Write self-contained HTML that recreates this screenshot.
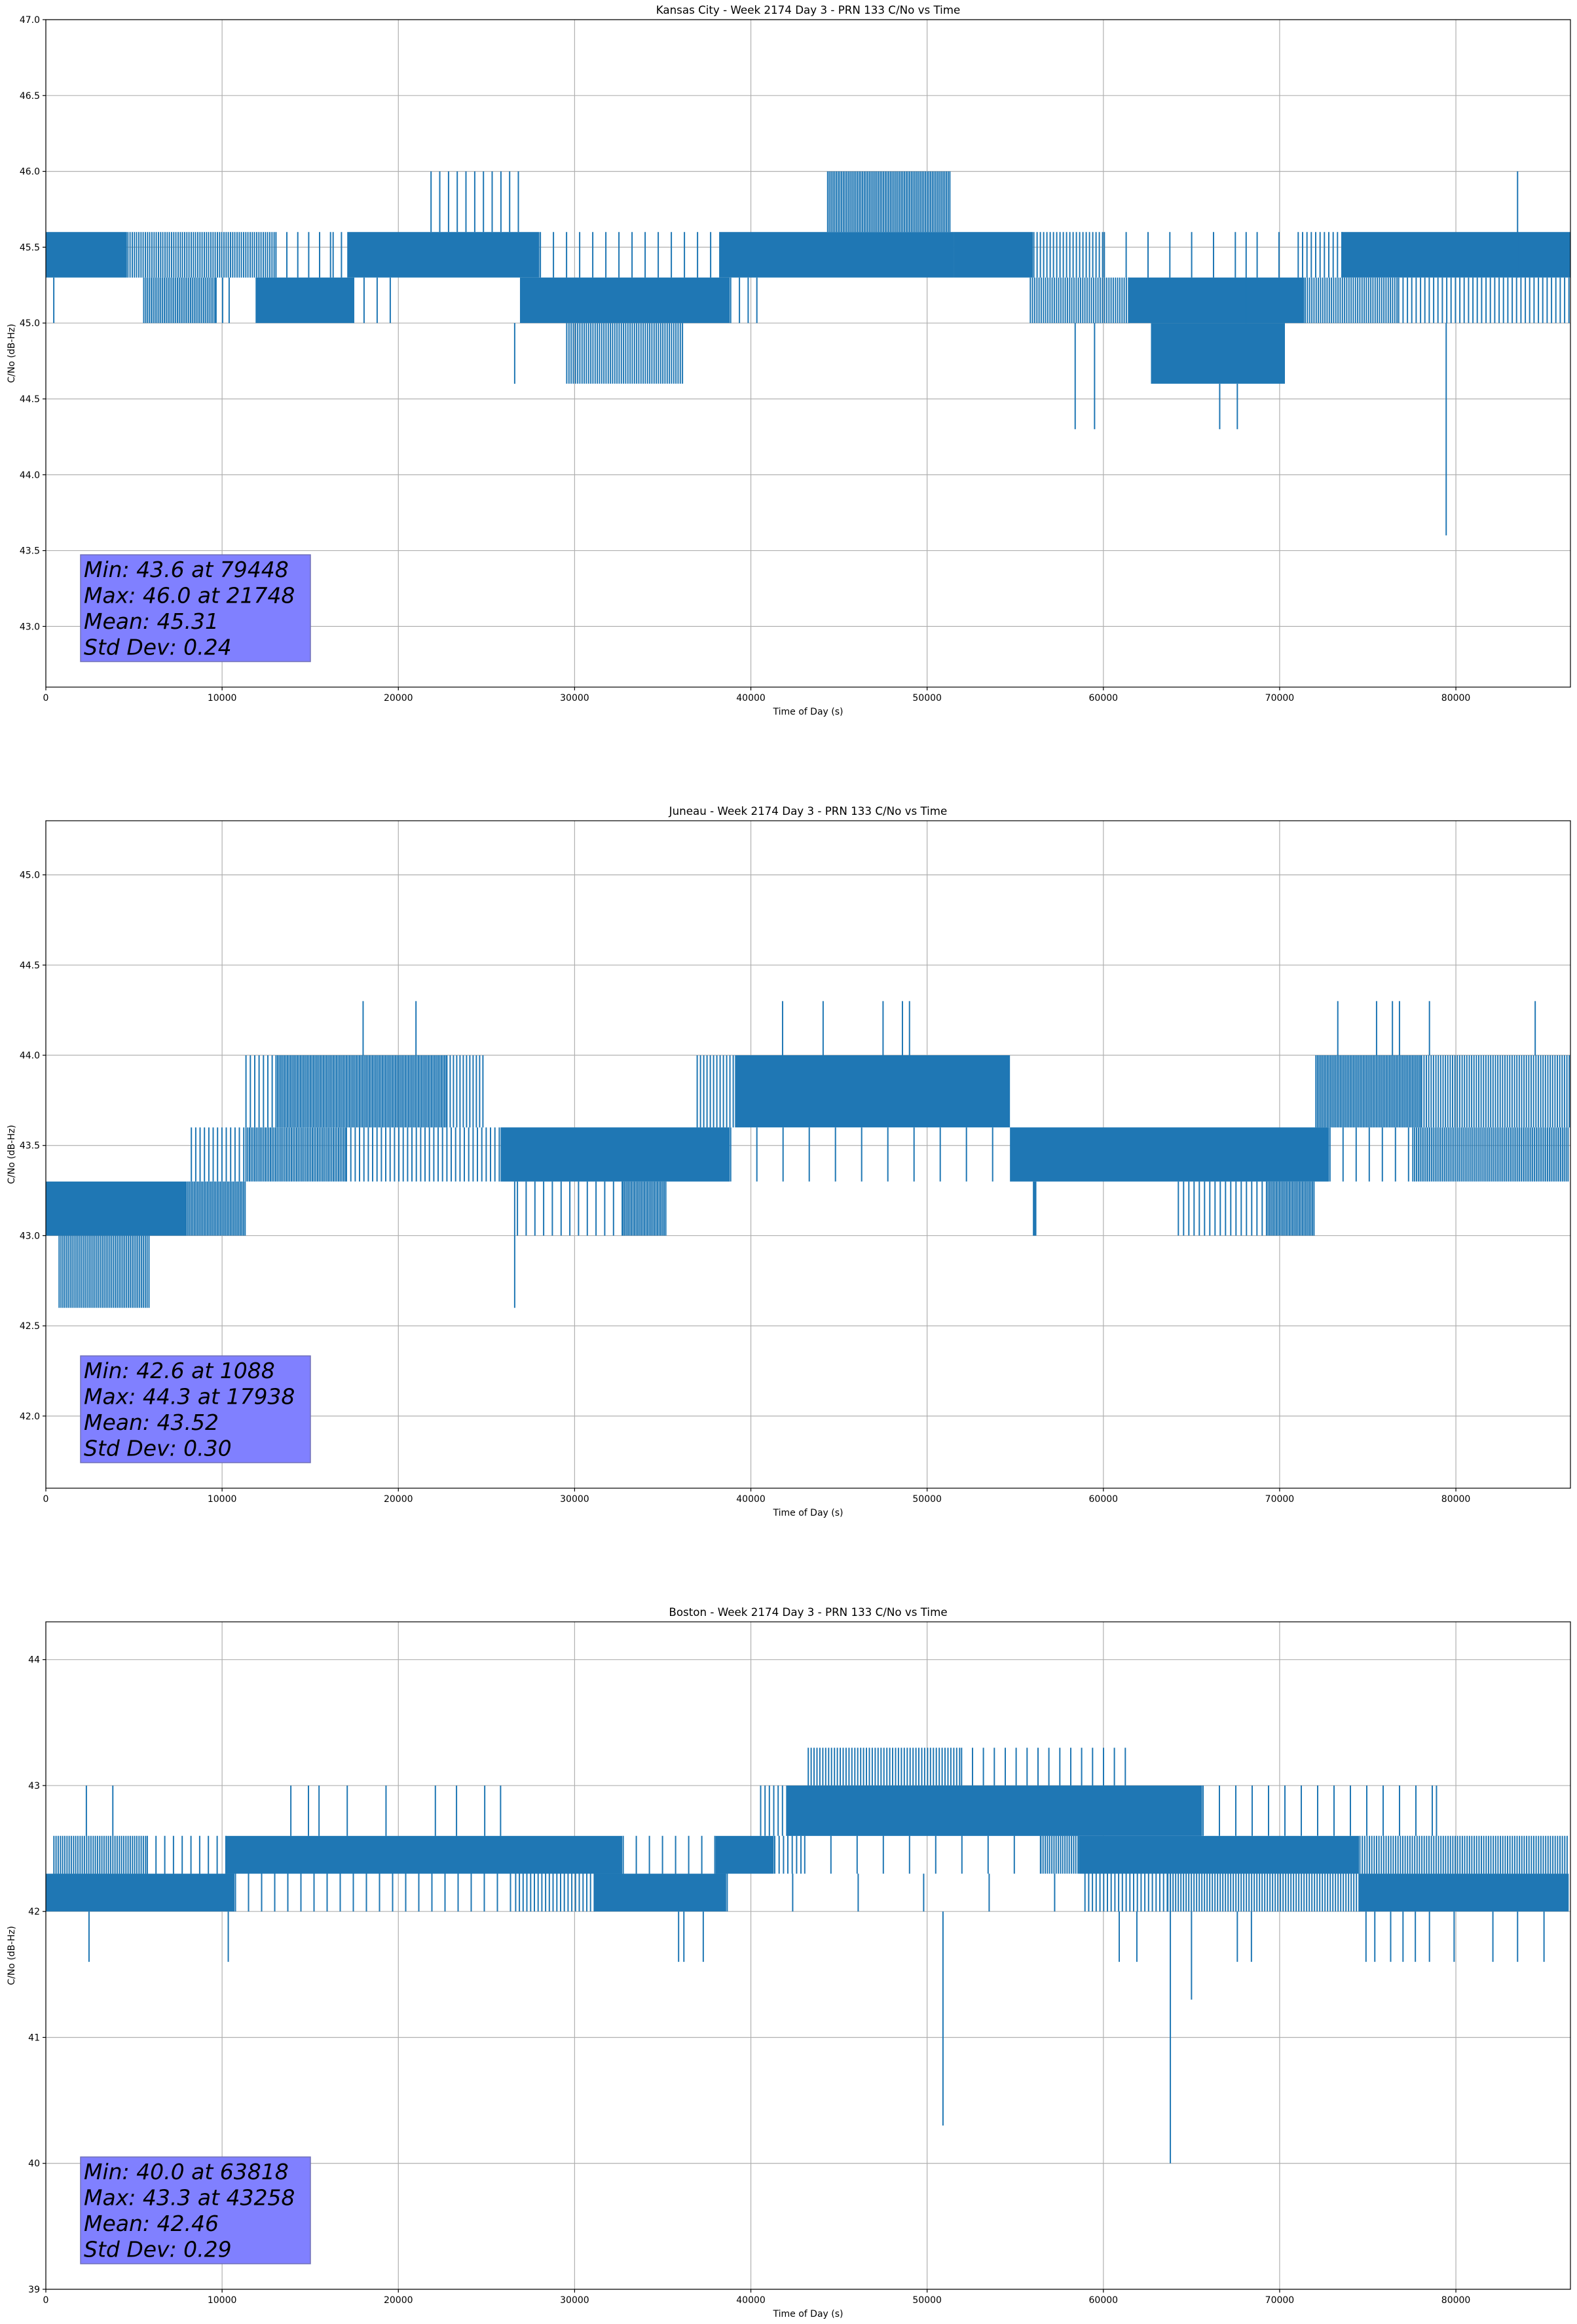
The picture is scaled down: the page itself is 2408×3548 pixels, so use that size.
<!DOCTYPE html>
<html><head><meta charset="utf-8">
<style>
html,body{margin:0;padding:0;background:#fff;}
svg{display:block;}
text{font-family:"DejaVu Sans","Liberation Sans",sans-serif;fill:#000;}
</style></head>
<body>
<svg id="fig" xmlns="http://www.w3.org/2000/svg" width="2408" height="3548" viewBox="0 0 2408 3548"></svg>
<script>
// ---------- shared axis data ----------
const xTicks = [0,10000,20000,30000,40000,50000,60000,70000,80000];
const xMax = 86500;

// ---------- Kansas City ----------
const kcTitle = "Kansas City - Week 2174 Day 3 - PRN 133 C/No vs Time";
const kcYTicks = [43.0,43.5,44.0,44.5,45.0,45.5,46.0,46.5,47.0];
const kcBandStart = [0,4.6,13,17.1,28,38.2,51.5,56,60,71,73.5, 5.5,9.6,11.9,18,26.9,38.8,55.8,61.4,71.4,76.7, 21.8,44.3, 29.5,62.7];
const kcBandEnd   = [4.6,13,17.1,28,38.2,51.5,56,60,71,73.5,86.5, 9.6,10.5,17.5,20,38.8,40.7,61.4,71.4,76.7,86.5, 26.8,51.3, 36.2,70.3];
const kcBandLow   = [45.3,45.3,45.3,45.3,45.3,45.3,45.3,45.3,45.3,45.3,45.3, 45.0,45.0,45.0,45.0,45.0,45.0,45.0,45.0,45.0,45.0, 45.6,45.6, 44.6,44.6];
const kcBandHigh  = [45.6,45.6,45.6,45.6,45.6,45.6,45.6,45.6,45.6,45.6,45.6, 45.3,45.3,45.3,45.3,45.3,45.3,45.3,45.3,45.3,45.3, 46.0,46.0, 45.0,45.0];
const kcBandDensity=[1.0,0.6,0.12,0.9,0.1,0.9,1.0,0.4,0.06,0.3,0.85, 0.7,0.2,0.9,0.1,0.95,0.15,0.6,1.0,0.6,0.3, 0.15,0.75, 0.6,0.85];
const kcSpikeT  = [0.45,26.6,58.4,59.5,66.6,67.6,79.45,83.5,16.3,68.1];
const kcSpikeLo = [45.0,44.6,44.3,44.3,44.3,44.3,43.6,45.3,45.3,45.0];
const kcSpikeHi = [45.3,45.0,45.0,45.0,44.6,44.6,45.0,46.0,45.6,45.6];
const kcStats = ["Min: 43.6 at 79448","Max: 46.0 at 21748","Mean: 45.31","Std Dev: 0.24"];

// ---------- Juneau ----------
const juTitle = "Juneau - Week 2174 Day 3 - PRN 133 C/No vs Time";
const juYTicks = [42.0,42.5,43.0,43.5,44.0,44.5,45.0];
const juBandStart = [0.7, 0,8,26.7,32.7,56.0,64.2,69.2, 8.2,11.3,17,25.8,38.8,54.7,72.8,77.5, 11.3,13,22.7,36.9,39.1,72,78];
const juBandEnd   = [5.9, 8,11.3,32.7,35.2,56.2,69.2,72, 11.3,17,25.8,38.8,54.7,72.8,77.5,86.4, 13,22.7,24.9,39.1,54.7,78,86.4];
const juBandLow   = [42.6, 43.0,43.0,43.0,43.0,43.0,43.0,43.0, 43.3,43.3,43.3,43.3,43.3,43.3,43.3,43.3, 43.6,43.6,43.6,43.6,43.6,43.6,43.6];
const juBandHigh  = [43.0, 43.3,43.3,43.3,43.3,43.3,43.3,43.3, 43.6,43.6,43.6,43.6,43.6,43.6,43.6,43.6, 44.0,44.0,44.0,44.0,44.0,44.0,44.0];
const juBandDensity=[0.7, 0.95,0.8,0.15,0.8,1.0,0.25,0.8, 0.3,0.75,0.3,0.85,0.05,0.9,0.1,0.7, 0.3,0.8,0.4,0.4,0.95,0.8,0.55];
const juSpikeT  = [18.0,21.0,41.8,44.1,47.5,48.6,49.0,73.3,75.5,76.4,76.8,78.5,84.5,26.6];
const juSpikeLo = [44.0,44.0,44.0,44.0,44.0,44.0,44.0,44.0,44.0,44.0,44.0,44.0,44.0,42.6];
const juSpikeHi = [44.3,44.3,44.3,44.3,44.3,44.3,44.3,44.3,44.3,44.3,44.3,44.3,44.3,43.3];
const juStats = ["Min: 42.6 at 1088","Max: 44.3 at 17938","Mean: 43.52","Std Dev: 0.30"];

// ---------- Boston ----------
const boTitle = "Boston - Week 2174 Day 3 - PRN 133 C/No vs Time";
const boYTicks = [39,40,41,42,43,44];
const boBandStart = [0,10.7,26.6,31.1,38.6,58.9,63.6,74.5, 0.4,5.7,10.2,32.7,38,41.3,43,56.4,58.6,74.5, 40.5,42,65.6, 43.2,51.9];
const boBandEnd   = [10.7,26.6,31.1,38.6,58.9,63.6,74.5,86.4, 5.7,10.2,32.7,38,41.3,43,56.4,58.6,74.5,86.4, 42,65.6,79.2, 51.9,61.4];
const boBandLow   = [42.0,42.0,42.0,42.0,42.0,42.0,42.0,42.0, 42.3,42.3,42.3,42.3,42.3,42.3,42.3,42.3,42.3,42.3, 42.6,42.6,42.6, 43.0,43.0];
const boBandHigh  = [42.3,42.3,42.3,42.3,42.3,42.3,42.3,42.3, 42.6,42.6,42.6,42.6,42.6,42.6,42.6,42.6,42.6,42.6, 43.0,43.0,43.0, 43.3,43.3];
const boBandDensity=[0.9,0.1,0.35,0.9,0.02,0.35,0.5,0.9, 0.6,0.15,0.9,0.1,0.9,0.3,0.05,0.6,0.95,0.55, 0.3,0.9,0.08, 0.45,0.12];
const boSpikeT  = [2.3,3.8,13.9,14.9,15.5,17.1,19.3,22.1,23.3,24.9,25.8,78.9, 2.45,10.35,35.9,36.2,37.3,60.9,61.9,67.6,68.4,74.9,75.4,76.3,77.0,77.7,78.5,79.9,82.1,83.5,85.0, 65.0,50.9,63.8];
const boSpikeLo = [42.6,42.6,42.6,42.6,42.6,42.6,42.6,42.6,42.6,42.6,42.6,42.6, 41.6,41.6,41.6,41.6,41.6,41.6,41.6,41.6,41.6,41.6,41.6,41.6,41.6,41.6,41.6,41.6,41.6,41.6,41.6, 41.3,40.3,40.0];
const boSpikeHi = [43.0,43.0,43.0,43.0,43.0,43.0,43.0,43.0,43.0,43.0,43.0,43.0, 42.0,42.0,42.0,42.0,42.0,42.0,42.0,42.0,42.0,42.0,42.0,42.0,42.0,42.0,42.0,42.0,42.0,42.0,42.0, 42.0,42.0,42.3];
const boStats = ["Min: 40.0 at 63818","Max: 43.3 at 43258","Mean: 42.46","Std Dev: 0.29"];

// ---------- rendering ----------
const NS = "http://www.w3.org/2000/svg";
const fig = document.getElementById('fig');
const LEFT = 70, RIGHT = 2398;
function mk(tag, attrs, parent){
  const e = document.createElementNS(NS, tag);
  for (const k in attrs) e.setAttribute(k, attrs[k]);
  parent.appendChild(e);
  return e;
}
function xScale(t){ return LEFT + (t / xMax) * (RIGHT - LEFT); }

function drawPanel(key, top, bottom, yMin, yMax, yTicks, decimals, title, bs, be, bl, bh, bd, st, slo, shi, stats){
  const yScale = v => bottom - (v - yMin) / (yMax - yMin) * (bottom - top);
  const g = mk('g', {}, fig);
  
  

  const grid = mk('g', {stroke:'#b0b0b0','stroke-width':1.2}, g);
  
  
  xTicks.forEach(t => { const x = xScale(t); mk('line',{x1:x,x2:x,y1:top,y2:bottom},grid); });
  yTicks.forEach(v => { const y = yScale(v); mk('line',{x1:LEFT,x2:RIGHT,y1:y,y2:y},grid); });

  const data = mk('g', {fill:'#1f77b4'}, g);
  
  
  for (let i = 0; i < bs.length; i++){
    const x0 = xScale(bs[i]*1000), x1 = xScale(be[i]*1000);
    const y0 = yScale(bh[i]), y1 = yScale(bl[i]);
    if (bd[i] >= 0.85) {
      const r = mk('rect',{x:x0,y:y0,width:Math.max(1.5,x1-x0),height:y1-y0}, data);
      
      
    } else {
      const lw = 2;
      const pitch = lw / bd[i];
      let d = '';
      for (let x = x0 + 0.5; x < x1; x += pitch) {
        d += 'M' + x.toFixed(1) + ' ' + y0.toFixed(1) + 'h' + lw + 'V' + y1.toFixed(1) + 'h-' + lw + 'Z';
      }
      const p = mk('path',{d:d}, data);
      
      
    }
  }
  for (let i = 0; i < st.length; i++){
    const x = xScale(st[i]*1000);
    const l = mk('line',{x1:x,x2:x,y1:yScale(shi[i]),y2:yScale(slo[i]),stroke:'#1f77b4','stroke-width':2}, data);
    
    
  }

  const bx = mk('g', {}, g);
  
  
  mk('rect',{x:123,y:top+817,width:351,height:163,fill:'#8080ff',stroke:'#7070b8','stroke-width':1.5}, bx);
  stats.forEach((s,i) => {
    const t = mk('text',{x:128,y:top+817+34+i*39.5,'font-size':33,'font-style':'italic'}, bx);
    t.textContent = s;
  });

  const fr = mk('rect',{x:LEFT,y:top,width:RIGHT-LEFT,height:bottom-top,fill:'none',stroke:'#000','stroke-width':1.2}, g);
  
  

  const xt = mk('g', {}, g);
  
  
  xTicks.forEach(t => {
    const x = xScale(t);
    mk('line',{x1:x,x2:x,y1:bottom,y2:bottom+5,stroke:'#000','stroke-width':1.2}, xt);
    const tx = mk('text',{x:x,y:bottom+21,'font-size':14,'text-anchor':'middle'}, xt);
    tx.textContent = String(t);
  });
  const xl = mk('text',{x:(LEFT+RIGHT)/2,y:bottom+42,'font-size':14,'text-anchor':'middle'}, g);
  
  
  xl.textContent = 'Time of Day (s)';

  const yt = mk('g', {}, g);
  
  
  yTicks.forEach(v => {
    const y = yScale(v);
    mk('line',{x1:LEFT-5,x2:LEFT,y1:y,y2:y,stroke:'#000','stroke-width':1.2}, yt);
    const tx = mk('text',{x:LEFT-9,y:y+5,'font-size':14,'text-anchor':'end'}, yt);
    tx.textContent = v.toFixed(decimals);
  });
  const cy = (top+bottom)/2;
  const yl = mk('text',{x:22,y:cy,'font-size':14,'text-anchor':'middle',transform:'rotate(-90 22 '+cy+')'}, g);
  
  
  yl.textContent = 'C/No (dB-Hz)';

  const tt = mk('text',{x:(LEFT+RIGHT)/2,y:top-9,'font-size':16.7,'text-anchor':'middle'}, g);
  
  
  tt.textContent = title;
}

drawPanel('kansas-city', 30, 1049, 42.6, 47.0, kcYTicks, 1, kcTitle, kcBandStart, kcBandEnd, kcBandLow, kcBandHigh, kcBandDensity, kcSpikeT, kcSpikeLo, kcSpikeHi, kcStats);
drawPanel('juneau', 1253, 2272, 41.6, 45.3, juYTicks, 1, juTitle, juBandStart, juBandEnd, juBandLow, juBandHigh, juBandDensity, juSpikeT, juSpikeLo, juSpikeHi, juStats);
drawPanel('boston', 2476, 3495, 39.0, 44.3, boYTicks, 0, boTitle, boBandStart, boBandEnd, boBandLow, boBandHigh, boBandDensity, boSpikeT, boSpikeLo, boSpikeHi, boStats);
</script>
</body></html>
